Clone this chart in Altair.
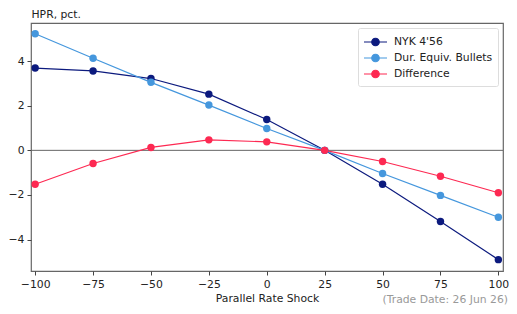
import altair as alt
import pandas as pd

shocks = [-100, -75, -50, -25, 0, 25, 50, 75, 100]
nyk = [3.69, 3.56, 3.22, 2.52, 1.38, 0.0, -1.52, -3.19, -4.90]
dur = [5.23, 4.13, 3.05, 2.03, 0.98, 0.0, -1.04, -2.02, -3.00]
diff = [-1.52, -0.59, 0.13, 0.47, 0.38, 0.0, -0.50, -1.16, -1.90]
series_names = ["NYK 4'56", "Dur. Equiv. Bullets", "Difference"]
series_colors = ["#0c1a7e", "#4597dd", "#fd2952"]
x_ticks = [-100, -75, -50, -25, 0, 25, 50, 75, 100]
y_ticks = [-4, -2, 0, 2, 4]
x_title = "Parallel Rate Shock"
y_title = "HPR, pct."
note = "(Trade Date: 26 Jun 26)"

rows = []
for name, vals in zip(series_names, [nyk, dur, diff]):
    for s, v in zip(shocks, vals):
        rows.append({"shock": s, "hpr": v, "series": name})
df = pd.DataFrame(rows)

W, H = 472, 248
FONT = "DejaVu Sans"
FS = 10.8

xs = alt.Scale(domain=[-101.8, 102], nice=False, zero=False)
ys = alt.Scale(domain=[-5.41, 5.71], nice=False, zero=False)
cs = alt.Scale(domain=series_names, range=series_colors)

# legend symbol: a short line with a dot in its middle (units of size/2 px)
legend_sym = ("M-1,0L1.875,0"
              "M0.9075,0A0.47,0.47,0,1,1,-0.0325,0A0.47,0.47,0,1,1,0.9075,0Z")

base = alt.Chart(df).encode(
    x=alt.X("shock:Q", scale=xs,
            axis=alt.Axis(values=x_ticks, title=x_title, grid=False, tickSize=4,
                          labelPadding=3, titlePadding=4, domain=False)),
    y=alt.Y("hpr:Q", scale=ys,
            axis=alt.Axis(values=y_ticks, title=y_title, grid=False, tickSize=4,
                          labelPadding=3, domain=False, titleAngle=0,
                          titleAlign="left", titleBaseline="bottom",
                          titleX=0, titleY=-4)),
    color=alt.Color("series:N", scale=cs, sort=series_names,
                    legend=alt.Legend(title=None, orient="top-right", offset=5,
                                      symbolType=legend_sym, symbolSize=256,
                                      symbolStrokeWidth=1.2, labelFontSize=FS,
                                      labelFont=FONT, rowPadding=0,
                                      padding=5, strokeColor="#dddddd",
                                      fillColor="white", cornerRadius=2,
                                      labelOffset=13, labelColor="#222")),
)

zero_rule = alt.Chart(pd.DataFrame({"y": [0]})).mark_rule(
    color="#666666", strokeWidth=1).encode(y=alt.Y("y:Q", scale=ys))

lines = base.mark_line(strokeWidth=1.2)
points = base.mark_point(filled=True, size=55, opacity=1)

note_layer = alt.Chart(pd.DataFrame({"t": [note]})).mark_text(
    align="right", baseline="middle", fontSize=FS, font=FONT, color="#999999"
).encode(x=alt.value(W + 5), y=alt.value(H + 29), text="t:N")

chart = alt.layer(zero_rule, lines, points, note_layer).properties(
    width=W, height=H,
    autosize=alt.AutoSizeParams(type="none"),
    padding={"left": 23, "top": 15, "right": 6, "bottom": 35},
).configure_view(
    stroke="#666666", strokeWidth=1.2
).configure_axis(
    labelFont=FONT, titleFont=FONT, labelFontSize=FS, titleFontSize=FS,
    labelColor="#222", titleColor="#222", tickColor="#444",
    titleFontWeight="normal"
)

chart.save("out.html", embed_options={"renderer": "svg", "actions": False})
